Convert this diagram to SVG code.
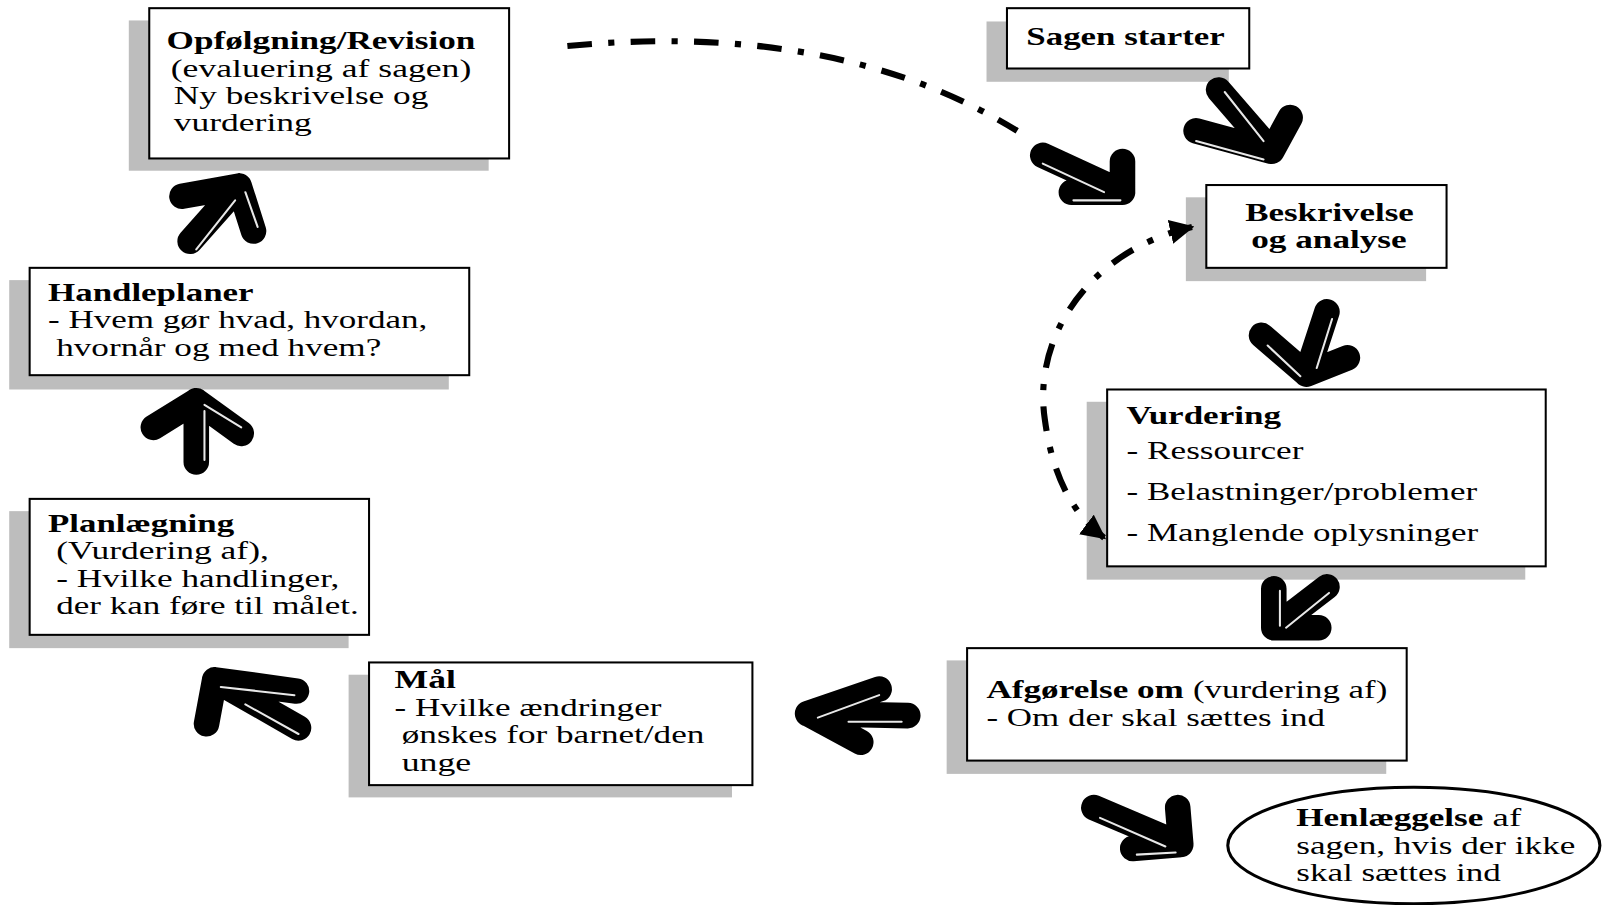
<svg xmlns="http://www.w3.org/2000/svg" width="1602" height="905" viewBox="0 0 1602 905">
<style>
.sh{fill:#bdbdbd}
.bx{fill:#fff;stroke:#000;stroke-width:2}
text{font-family:"Liberation Serif","Times New Roman",serif;font-size:25px;fill:#000}
.b{font-weight:bold}
.arr{fill:none;stroke:#000;stroke-width:25;stroke-linecap:round;stroke-linejoin:round}
.hl{fill:none;stroke:#e8e8e8;stroke-width:2;stroke-linecap:round}
.dd{fill:none;stroke:#000;stroke-width:6;stroke-dasharray:24 16 6 16}
</style>
<defs>
<marker id="ah" viewBox="0 0 10 10" refX="9" refY="5" markerWidth="4" markerHeight="4" orient="auto-start-reverse" markerUnits="strokeWidth">
<path d="M0 0 L10 5 L0 10 Z" fill="#000"/>
</marker>
</defs>
<rect width="1602" height="905" fill="#fff"/>
<g transform="scale(1.0223)">
<g id="opfolgning">
<rect class="sh" x="126" y="20" width="352" height="147"/>
<rect class="bx" x="146" y="8" width="352" height="147"/>
<text class="b" x="163" y="48" textLength="302" lengthAdjust="spacingAndGlyphs">Opfølgning/Revision</text>
<text x="167" y="75" textLength="294" lengthAdjust="spacingAndGlyphs">(evaluering af sagen)</text>
<text x="170" y="102" textLength="249" lengthAdjust="spacingAndGlyphs">Ny beskrivelse og</text>
<text x="170" y="128" textLength="135" lengthAdjust="spacingAndGlyphs">vurdering</text>
</g>

<g id="sagen">
<rect class="sh" x="965" y="21" width="237" height="59"/>
<rect class="bx" x="985" y="8" width="237" height="59"/>
<text class="b" x="1004" y="44" textLength="194" lengthAdjust="spacingAndGlyphs">Sagen starter</text>
</g>

<g id="beskrivelse">
<rect class="sh" x="1160" y="193" width="235" height="82"/>
<rect class="bx" x="1180" y="181" width="235" height="81"/>
<text class="b" x="1218" y="216" textLength="165" lengthAdjust="spacingAndGlyphs">Beskrivelse</text>
<text class="b" x="1224" y="243" textLength="152" lengthAdjust="spacingAndGlyphs">og analyse</text>
</g>

<g id="vurdering">
<rect class="sh" x="1063" y="393" width="429" height="174"/>
<rect class="bx" x="1083" y="381" width="429" height="173"/>
<text class="b" x="1102" y="415" textLength="151" lengthAdjust="spacingAndGlyphs">Vurdering</text>
<text x="1102" y="449" textLength="173" lengthAdjust="spacingAndGlyphs">- Ressourcer</text>
<text x="1102" y="489" textLength="343" lengthAdjust="spacingAndGlyphs">- Belastninger/problemer</text>
<text x="1102" y="529" textLength="344" lengthAdjust="spacingAndGlyphs">- Manglende oplysninger</text>
</g>

<g id="afgorelse">
<rect class="sh" x="926" y="646" width="430" height="111"/>
<rect class="bx" x="946" y="634" width="430" height="110"/>
<text class="b" x="965" y="683" textLength="193" lengthAdjust="spacingAndGlyphs">Afgørelse om</text>
<text x="1167" y="683" textLength="190" lengthAdjust="spacingAndGlyphs">(vurdering af)</text>
<text x="965" y="710" textLength="331" lengthAdjust="spacingAndGlyphs">- Om der skal sættes ind</text>
</g>

<g id="maal">
<rect class="sh" x="341" y="660" width="375" height="120"/>
<rect class="bx" x="361" y="648" width="375" height="120"/>
<text class="b" x="386" y="673" textLength="60" lengthAdjust="spacingAndGlyphs">Mål</text>
<text x="386" y="700" textLength="261" lengthAdjust="spacingAndGlyphs">- Hvilke ændringer</text>
<text x="393" y="727" textLength="296" lengthAdjust="spacingAndGlyphs">ønskes for barnet/den</text>
<text x="393" y="754" textLength="68" lengthAdjust="spacingAndGlyphs">unge</text>
</g>

<g id="planlaegning">
<rect class="sh" x="9" y="500" width="332" height="134"/>
<rect class="bx" x="29" y="488" width="332" height="133"/>
<text class="b" x="47" y="520" textLength="182" lengthAdjust="spacingAndGlyphs">Planlægning</text>
<text x="55" y="547" textLength="208" lengthAdjust="spacingAndGlyphs">(Vurdering af),</text>
<text x="55" y="574" textLength="277" lengthAdjust="spacingAndGlyphs">- Hvilke handlinger,</text>
<text x="55" y="601" textLength="296" lengthAdjust="spacingAndGlyphs">der kan føre til målet.</text>
</g>

<g id="handleplaner">
<rect class="sh" x="9" y="274" width="430" height="107"/>
<rect class="bx" x="29" y="262" width="430" height="105"/>
<text class="b" x="47" y="294" textLength="201" lengthAdjust="spacingAndGlyphs">Handleplaner</text>
<text x="47" y="321" textLength="371" lengthAdjust="spacingAndGlyphs">- Hvem gør hvad, hvordan,</text>
<text x="55" y="348" textLength="318" lengthAdjust="spacingAndGlyphs">hvornår og med hvem?</text>
</g>

<g id="henlaeggelse">
<ellipse cx="1383" cy="827" rx="182" ry="57" fill="#fff" stroke="#000" stroke-width="3"/>
<text class="b" x="1268" y="808" textLength="183" lengthAdjust="spacingAndGlyphs">Henlæggelse</text>
<text x="1460" y="808" textLength="28" lengthAdjust="spacingAndGlyphs">af</text>
<text x="1268" y="835" textLength="273" lengthAdjust="spacingAndGlyphs">sagen, hvis der ikke</text>
<text x="1268" y="862" textLength="200" lengthAdjust="spacingAndGlyphs">skal sættes ind</text>
</g>

<g id="connectors">
<path class="dd" d="M555 45 Q820 20 995 128"/>
<path class="dd" d="M1166 222 C1065 245 1010 330 1022 410 C1030 470 1052 505 1080 526" marker-start="url(#ah)" marker-end="url(#ah)"/>
<g id="arrowA"><path class="arr" d="M1192 88 L1244 148 M1170 128 L1244 148 L1262 115"/><path class="hl" d="M1198 90 L1236 138 M1170 138 L1236 156"/></g>
<g id="arrowB"><path class="arr" d="M1020 152 L1098 188 M1048 188 L1098 188 L1098 158"/><path class="hl" d="M1020 160 L1080 188 M1050 196 L1096 196"/></g>
<g id="arrowC"><path class="arr" d="M1298 305 L1278 366 M1234 328 L1278 366 L1318 350"/><path class="hl" d="M1303 312 L1288 360 M1240 338 L1272 368"/></g>
<g id="arrowD"><path class="arr" d="M1298 574 L1246 614 M1246 576 L1246 614 L1290 614"/><path class="hl" d="M1300 580 L1258 614 M1252 578 L1252 612"/></g>
<g id="arrowE"><path class="arr" d="M888 700 L790 698 M860 674 L790 698 L842 726"/><path class="hl" d="M882 706 L830 706 M860 680 L800 702"/></g>
<g id="arrowF"><path class="arr" d="M292 712 L210 665 M290 676 L210 665 L202 708"/><path class="hl" d="M292 718 L240 689 M288 680 L216 672"/></g>
<g id="arrowG"><path class="arr" d="M192 452 L192 392 L150 418 M192 392 L236 424"/><path class="hl" d="M200 450 L200 402 M200 396 L236 418"/></g>
<g id="arrowH"><path class="arr" d="M186 236 L234 182 M178 192 L234 182 L248 226"/><path class="hl" d="M192 244 L230 196 M240 188 L252 222"/></g>
<g id="arrowI"><path class="arr" d="M1070 790 L1155 826 M1108 830 L1155 826 L1152 790"/><path class="hl" d="M1076 800 L1140 828 M1112 836 L1150 834"/></g>
</g>
</g>
</svg>
